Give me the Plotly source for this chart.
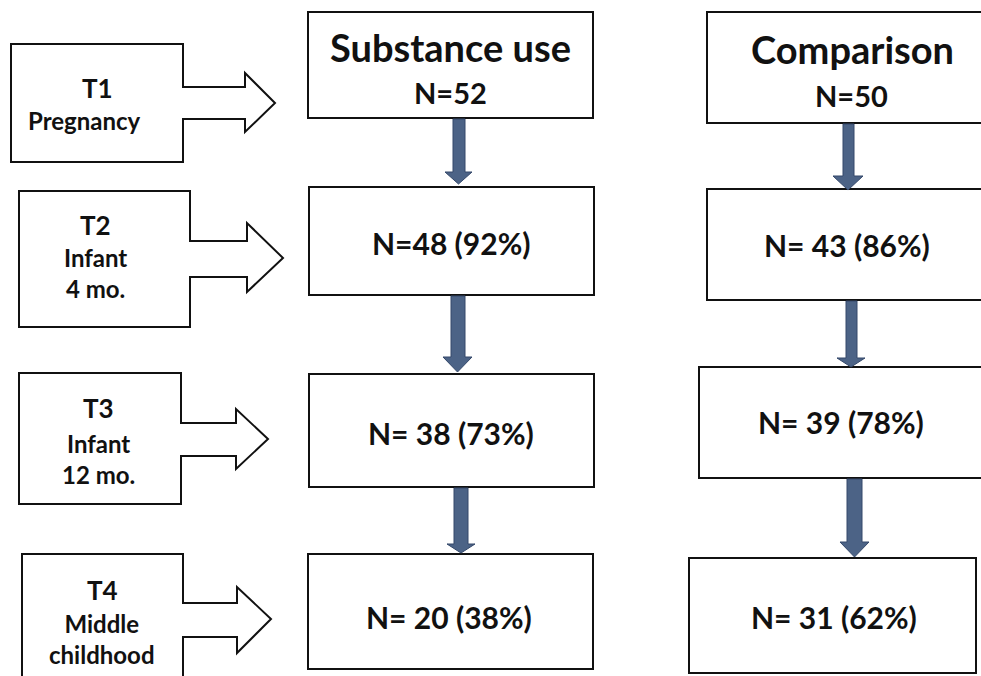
import plotly.graph_objects as go

# ---- data ----
time_points = ["T1", "T2", "T3", "T4"]
time_desc = ["Pregnancy", "Infant<br>4 mo.", "Infant<br>12 mo.", "Middle<br>childhood"]
groups = ["Substance use", "Comparison"]
su_n = [52, 48, 38, 20]
su_pct = [None, 92, 73, 38]
cmp_n = [50, 43, 39, 31]
cmp_pct = [None, 86, 78, 62]
su_labels = ["N=52", "N=48 (92%)", "N= 38 (73%)", "N= 20 (38%)"]
cmp_labels = ["N=50", "N= 43 (86%)", "N= 39 (78%)", "N= 31 (62%)"]

# ---- layout geometry (pixels, y downward) ----
# callouts: L, T, R, B, stem_top, stem_bot, head_x, head_top, head_bot, tip_x, tip_y
callouts = [
    (11, 44, 183, 162, 87, 119, 245, 73, 132, 275, 103),
    (19, 191, 190, 327, 241, 277, 247, 223, 292, 283, 258),
    (19, 373, 181, 504, 423, 456, 236, 409, 469, 268, 439),
    (22, 554, 183, 700, 603, 637, 237, 587, 653, 271, 619),
]
su_boxes = [(308, 12, 593, 118), (309, 187, 594, 295), (309, 374, 594, 487), (308, 554, 593, 669)]
cmp_boxes = [(707, 12, 995, 123), (707, 189, 995, 300), (699, 367, 995, 478), (689, 558, 976, 673)]
# down arrows: stem_x1, stem_x2, top, head_l, head_r, head_top, tip
su_arrows = [(453, 465, 119, 445, 472, 172, 184), (451, 465, 296, 443, 472, 357, 372),
             (454, 468, 488, 447, 475, 544, 553)]
cmp_arrows = [(843, 854, 124, 833, 863, 176, 190), (846, 857, 301, 837, 865, 358, 367),
              (847, 862, 479, 840, 869, 542, 557)]
su_text_y = [None, 243, 433, 617]
cmp_text_y = [None, 245, 422, 617]
su_text_x = [451, 451, 451, 449]
cmp_text_x = [851, 847, 841, 834]
tp_pos = [(97, 88, 120), (95, 225, 273), (98, 408, 459), (102, 590, 639)]

FONT = "Lato, Carlito, Calibri, Arial, sans-serif"
BLACK = "#111111"
ARROW_FILL = "#4C6386"
ARROW_LINE = "#34486A"

fig = go.Figure()
shapes = []
ann = []

for (L, T, R, B, st, sb, hx, ht, hb, tx, ty) in callouts:
    p = (f"M {L},{T} L {R},{T} L {R},{st} L {hx},{st} L {hx},{ht} L {tx},{ty} "
         f"L {hx},{hb} L {hx},{sb} L {R},{sb} L {R},{B} L {L},{B} Z")
    shapes.append(dict(type="path", path=p, line=dict(color=BLACK, width=2), fillcolor="white"))

for (x0, y0, x1, y1) in su_boxes + cmp_boxes:
    shapes.append(dict(type="rect", x0=x0, y0=y0, x1=x1, y1=y1,
                       line=dict(color=BLACK, width=2), fillcolor="white"))

for (a, b, top, hl, hr, hy, tip) in su_arrows + cmp_arrows:
    cx = (hl + hr) / 2
    p = f"M {a},{top} L {b},{top} L {b},{hy} L {hr},{hy} L {cx},{tip} L {hl},{hy} L {a},{hy} Z"
    shapes.append(dict(type="path", path=p, line=dict(color=ARROW_LINE, width=1), fillcolor=ARROW_FILL))

# headers
ann.append(dict(x=450, y=47, text=f"<b>{groups[0]}</b>", font=dict(size=38)))
ann.append(dict(x=852, y=49, text=f"<b>{groups[1]}</b>", font=dict(size=38)))
ann.append(dict(x=450, y=92, text=f"<b>{su_labels[0]}</b>", font=dict(size=29)))
ann.append(dict(x=851, y=95, text=f"<b>{cmp_labels[0]}</b>", font=dict(size=29)))

for i in range(1, 4):
    ann.append(dict(x=su_text_x[i], y=su_text_y[i], text=f"<b>{su_labels[i]}</b>", font=dict(size=30)))
    ann.append(dict(x=cmp_text_x[i], y=cmp_text_y[i], text=f"<b>{cmp_labels[i]}</b>", font=dict(size=30)))

for i, (x, yt, yd) in enumerate(tp_pos):
    ann.append(dict(x=x, y=yt, text=f"<b>{time_points[i]}</b>", font=dict(size=26)))
    desc = "<br>".join(f"<b>{s}</b>" for s in time_desc[i].split("<br>"))
    ann.append(dict(x=x - (13 if i == 0 else 0), y=yd, text=desc, font=dict(size=24)))

for a in ann:
    a.update(xref="x", yref="y", showarrow=False, xanchor="center", yanchor="middle")
    a["font"].update(family=FONT, color=BLACK)

fig.update_layout(
    width=981, height=676,
    margin=dict(l=0, r=0, t=0, b=0),
    paper_bgcolor="white", plot_bgcolor="white",
    xaxis=dict(range=[0, 981], visible=False, fixedrange=True),
    yaxis=dict(range=[676, 0], visible=False, fixedrange=True),
    shapes=shapes, annotations=ann, showlegend=False,
)
fig.write_html(
    "out.html",
    config={"displayModeBar": False},
    post_script="document.body.style.margin='0';document.body.style.overflow='hidden';",
)
